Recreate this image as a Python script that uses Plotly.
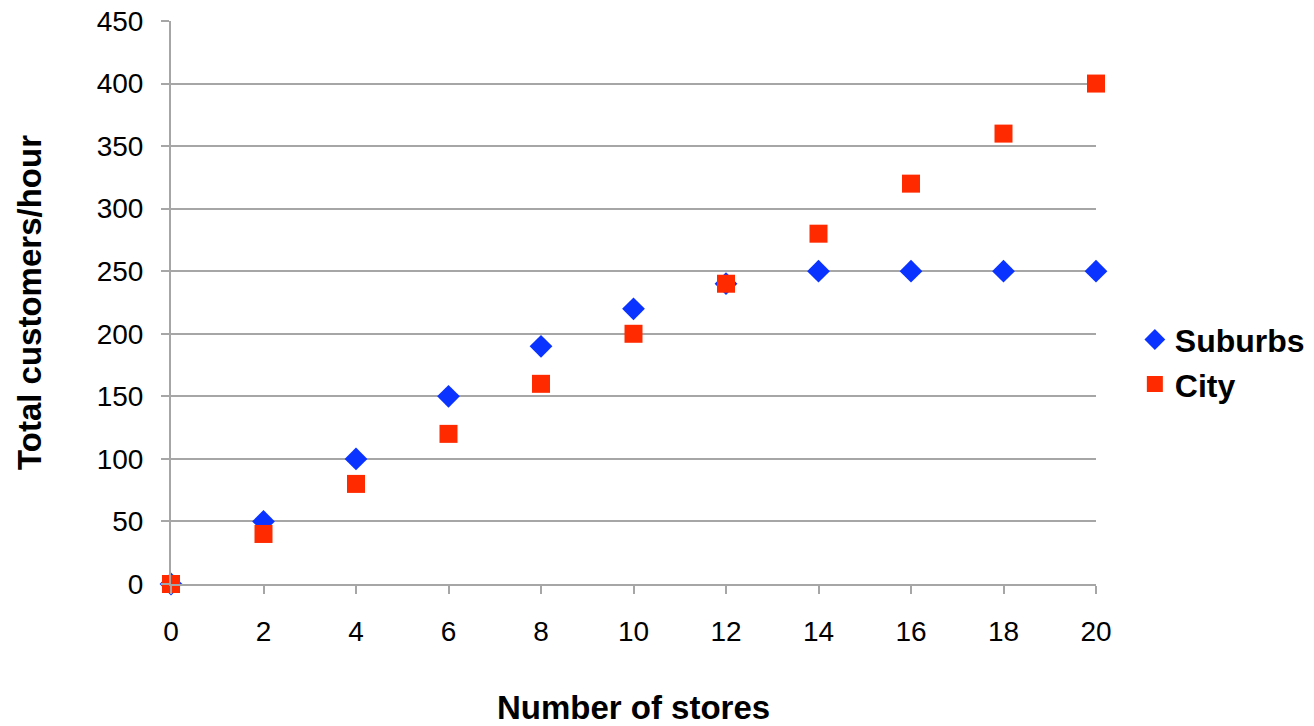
import plotly.graph_objects as go

stores = [0, 2, 4, 6, 8, 10, 12, 14, 16, 18, 20]
suburbs = [0, 50, 100, 150, 190, 220, 240, 250, 250, 250, 250]
city = [0, 40, 80, 120, 160, 200, 240, 280, 320, 360, 400]

FONT = "Liberation Sans, Arial, sans-serif"
GRID = "#a6a6a6"

fig = go.Figure()
fig.add_trace(go.Scatter(
    x=stores, y=suburbs, mode="markers", name="Suburbs",
    marker=dict(symbol="diamond", size=17.5, color="#0a33ff"),
    cliponaxis=False,
))
fig.add_trace(go.Scatter(
    x=stores, y=city, mode="markers", name="City",
    marker=dict(symbol="square", size=18, color="#ff2a00"),
    cliponaxis=False,
))

fig.update_layout(
    width=1314, height=726,
    margin=dict(l=171, r=218, t=21, b=142, autoexpand=False),
    paper_bgcolor="white", plot_bgcolor="white",
    font=dict(family=FONT, size=28, color="black"),
    showlegend=True,
    legend=dict(
        x=1.042, y=0.394, xanchor="left", yanchor="middle",
        font=dict(family=FONT, size=32, color="black", weight="bold"),
        itemwidth=30, tracegroupgap=0,
    ),
    xaxis=dict(
        range=[0, 20], tickvals=stores, showgrid=False, zeroline=False,
        automargin=False,
        showline=True, linecolor=GRID, linewidth=2,
        ticks="outside", ticklen=8, tickcolor=GRID, tickwidth=2,
        tickfont=dict(size=28), ticklabelstandoff=13,
        title=dict(text="Number of stores", standoff=50,
                   font=dict(family=FONT, size=33, weight="bold")),
    ),
    yaxis=dict(
        range=[0, 450], dtick=50, showgrid=True, gridcolor=GRID, gridwidth=2,
        zeroline=False, automargin=False,
        showline=True, linecolor=GRID, linewidth=2,
        ticks="outside", ticklen=8, tickcolor=GRID, tickwidth=2,
        tickfont=dict(size=28), ticklabelstandoff=12,
        title=dict(text="Total customers/hour", standoff=45,
                   font=dict(family=FONT, size=33, weight="bold")),
    ),
)

fig.write_html("out.html")
